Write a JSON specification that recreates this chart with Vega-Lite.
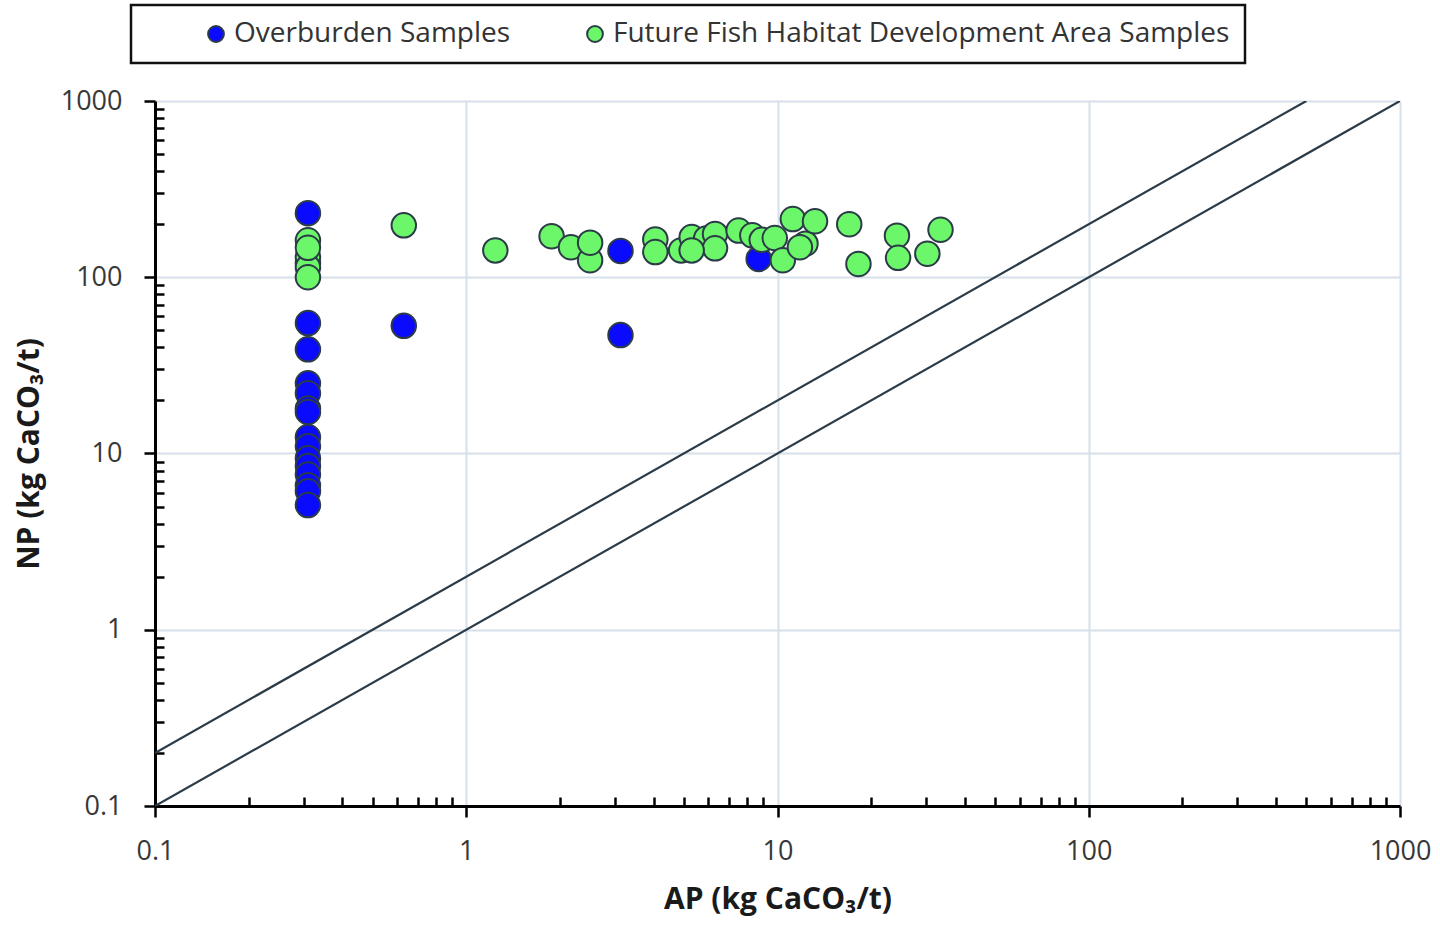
{
  "$schema": "https://vega.github.io/schema/vega-lite/v6.json",
  "autosize": {"type": "none"},
  "width": 1245,
  "height": 705,
  "padding": {"left": 155, "top": 101, "right": 40, "bottom": 119},
  "background": "white",
  "config": {
    "view": {"stroke": null},
    "font": "Open Sans",
    "axis": {
      "labelFont": "Open Sans",
      "labelFontSize": 27,
      "labelColor": "#383838",
      "titleFont": "Open Sans",
      "titleFontSize": 30,
      "titleFontWeight": "bold",
      "titleColor": "#1a1a1a",
      "domainColor": "#000000",
      "domainWidth": 3,
      "tickColor": "#000000",
      "tickWidth": 2.5,
      "gridColor": "#d5e0ea",
      "gridWidth": 2
    }
  },
  "datasets": {
    "samples": [
      {"AP": 0.31, "NP": 231, "group": "Overburden Samples"},
      {"AP": 0.31, "NP": 55, "group": "Overburden Samples"},
      {"AP": 0.31, "NP": 39, "group": "Overburden Samples"},
      {"AP": 0.31, "NP": 25, "group": "Overburden Samples"},
      {"AP": 0.31, "NP": 22, "group": "Overburden Samples"},
      {"AP": 0.31, "NP": 18, "group": "Overburden Samples"},
      {"AP": 0.31, "NP": 17.2, "group": "Overburden Samples"},
      {"AP": 0.31, "NP": 12.4, "group": "Overburden Samples"},
      {"AP": 0.31, "NP": 11, "group": "Overburden Samples"},
      {"AP": 0.31, "NP": 9.4, "group": "Overburden Samples"},
      {"AP": 0.31, "NP": 8.5, "group": "Overburden Samples"},
      {"AP": 0.31, "NP": 7.6, "group": "Overburden Samples"},
      {"AP": 0.31, "NP": 6.6, "group": "Overburden Samples"},
      {"AP": 0.31, "NP": 6.1, "group": "Overburden Samples"},
      {"AP": 0.31, "NP": 5.1, "group": "Overburden Samples"},
      {"AP": 0.31, "NP": 120, "group": "Overburden Samples"},
      {"AP": 0.63, "NP": 53, "group": "Overburden Samples"},
      {"AP": 3.13, "NP": 141, "group": "Overburden Samples"},
      {"AP": 3.13, "NP": 47, "group": "Overburden Samples"},
      {"AP": 8.7, "NP": 127, "group": "Overburden Samples"},
      {"AP": 0.31, "NP": 162, "group": "Future Fish Habitat Development Area Samples"},
      {"AP": 0.31, "NP": 130, "group": "Future Fish Habitat Development Area Samples"},
      {"AP": 0.31, "NP": 114, "group": "Future Fish Habitat Development Area Samples"},
      {"AP": 0.31, "NP": 100, "group": "Future Fish Habitat Development Area Samples"},
      {"AP": 0.31, "NP": 147, "group": "Future Fish Habitat Development Area Samples"},
      {"AP": 0.63, "NP": 197, "group": "Future Fish Habitat Development Area Samples"},
      {"AP": 1.24, "NP": 142, "group": "Future Fish Habitat Development Area Samples"},
      {"AP": 1.88, "NP": 171, "group": "Future Fish Habitat Development Area Samples"},
      {"AP": 2.17, "NP": 148, "group": "Future Fish Habitat Development Area Samples"},
      {"AP": 2.5, "NP": 125, "group": "Future Fish Habitat Development Area Samples"},
      {"AP": 2.5, "NP": 157, "group": "Future Fish Habitat Development Area Samples"},
      {"AP": 4.05, "NP": 164, "group": "Future Fish Habitat Development Area Samples"},
      {"AP": 4.05, "NP": 139, "group": "Future Fish Habitat Development Area Samples"},
      {"AP": 4.9, "NP": 142, "group": "Future Fish Habitat Development Area Samples"},
      {"AP": 5.3, "NP": 169, "group": "Future Fish Habitat Development Area Samples"},
      {"AP": 5.9, "NP": 166, "group": "Future Fish Habitat Development Area Samples"},
      {"AP": 6.3, "NP": 176, "group": "Future Fish Habitat Development Area Samples"},
      {"AP": 6.3, "NP": 146, "group": "Future Fish Habitat Development Area Samples"},
      {"AP": 7.5, "NP": 184, "group": "Future Fish Habitat Development Area Samples"},
      {"AP": 8.3, "NP": 173, "group": "Future Fish Habitat Development Area Samples"},
      {"AP": 8.9, "NP": 163, "group": "Future Fish Habitat Development Area Samples"},
      {"AP": 9.8, "NP": 167, "group": "Future Fish Habitat Development Area Samples"},
      {"AP": 10.4, "NP": 125, "group": "Future Fish Habitat Development Area Samples"},
      {"AP": 11.2, "NP": 214, "group": "Future Fish Habitat Development Area Samples"},
      {"AP": 12.3, "NP": 155, "group": "Future Fish Habitat Development Area Samples"},
      {"AP": 11.8, "NP": 148, "group": "Future Fish Habitat Development Area Samples"},
      {"AP": 13.2, "NP": 208, "group": "Future Fish Habitat Development Area Samples"},
      {"AP": 5.3, "NP": 142, "group": "Future Fish Habitat Development Area Samples"},
      {"AP": 17, "NP": 200, "group": "Future Fish Habitat Development Area Samples"},
      {"AP": 18.2, "NP": 119, "group": "Future Fish Habitat Development Area Samples"},
      {"AP": 24.2, "NP": 172, "group": "Future Fish Habitat Development Area Samples"},
      {"AP": 24.4, "NP": 129, "group": "Future Fish Habitat Development Area Samples"},
      {"AP": 30.3, "NP": 136, "group": "Future Fish Habitat Development Area Samples"},
      {"AP": 33.4, "NP": 186, "group": "Future Fish Habitat Development Area Samples"}
    ],
    "lines": [
      {"AP": 0.1, "NP": 0.1, "ratio": "1:1"},
      {"AP": 1000, "NP": 1000, "ratio": "1:1"},
      {"AP": 0.1, "NP": 0.2, "ratio": "2:1"},
      {"AP": 500, "NP": 1000, "ratio": "2:1"}
    ]
  },
  "layer": [
    {
      "data": {"name": "lines"},
      "mark": {"type": "line", "color": "#2b3b47", "strokeWidth": 2.2, "clip": true},
      "encoding": {
        "x": {"field": "AP", "type": "quantitative", "scale": {"type": "log", "domain": [0.1, 1000]}},
        "y": {"field": "NP", "type": "quantitative", "scale": {"type": "log", "domain": [0.1, 1000]}},
        "detail": {"field": "ratio"}
      }
    },
    {
      "data": {"name": "samples"},
      "mark": {"type": "circle", "size": 600, "opacity": 1, "stroke": "#2b3b47", "strokeWidth": 2},
      "encoding": {
        "x": {
          "field": "AP", "type": "quantitative",
          "scale": {"type": "log", "domain": [0.1, 1000], "nice": false},
          "axis": {
            "title": "AP (kg CaCO₃/t)",
            "values": [0.1,0.2,0.3,0.4,0.5,0.6,0.7,0.8,0.9,1,2,3,4,5,6,7,8,9,10,20,30,40,50,60,70,80,90,100,200,300,400,500,600,700,800,900,1000],
            "labelExpr": "abs(log(datum.value)/LN10 - round(log(datum.value)/LN10)) < 0.000001 ? format(datum.value, '~g') : ''",
            "tickSize": {"condition": {"test": "abs(log(datum.value)/LN10 - round(log(datum.value)/LN10)) < 0.000001", "value": 11}, "value": -9},
            "gridOpacity": {"condition": {"test": "abs(log(datum.value)/LN10 - round(log(datum.value)/LN10)) < 0.000001", "value": 1}, "value": 0},
            "labelPadding": 21,
            "labelFlush": false,
            "labelOverlap": false,
            "titlePadding": 20
          }
        },
        "y": {
          "field": "NP", "type": "quantitative",
          "scale": {"type": "log", "domain": [0.1, 1000], "nice": false},
          "axis": {
            "title": "NP (kg CaCO₃/t)",
            "values": [0.1,0.2,0.3,0.4,0.5,0.6,0.7,0.8,0.9,1,2,3,4,5,6,7,8,9,10,20,30,40,50,60,70,80,90,100,200,300,400,500,600,700,800,900,1000],
            "labelExpr": "abs(log(datum.value)/LN10 - round(log(datum.value)/LN10)) < 0.000001 ? format(datum.value, '~g') : ''",
            "tickSize": {"condition": {"test": "abs(log(datum.value)/LN10 - round(log(datum.value)/LN10)) < 0.000001", "value": 11}, "value": -9},
            "gridOpacity": {"condition": {"test": "abs(log(datum.value)/LN10 - round(log(datum.value)/LN10)) < 0.000001", "value": 1}, "value": 0},
            "labelPadding": 22,
            "labelFlush": false,
            "labelOverlap": false,
            "titlePadding": 16
          }
        },
        "color": {
          "field": "group", "type": "nominal",
          "scale": {"domain": ["Overburden Samples", "Future Fish Habitat Development Area Samples"], "range": ["#0a0aff", "#6cf76a"]},
          "legend": {
            "title": null,
            "orient": "none",
            "direction": "horizontal",
            "legendX": -24,
            "legendY": -96,
            "padding": 15,
            "strokeColor": "#111111",
            "fillColor": "white",
            "symbolType": "circle",
            "symbolSize": 250,
            "symbolStrokeColor": "#2b3b47",
            "symbolStrokeWidth": 2,
            "symbolOpacity": 1,
            "symbolOffset": 56,
            "labelFontSize": 28,
            "labelFont": "Open Sans",
            "labelColor": "#333333",
            "labelLimit": 900,
            "labelOffset": 4,
            "columnPadding": 14,
            "encode": {
              "legend": {"update": {"strokeWidth": {"value": 2.5}}},
              "entries": {"update": {"noBound": {"value": false}, "width": {"signal": "length(datum.label || datum.value || '') > 30 ? 745 : (length(datum.label || datum.value || '') > 0 ? 0 : 300)"}}}
            }
          }
        }
      }
    }
  ]
}
